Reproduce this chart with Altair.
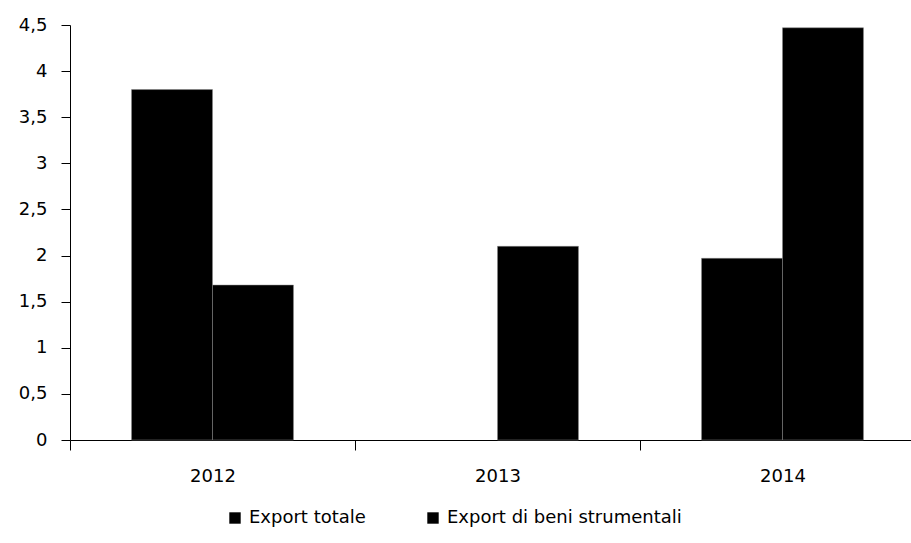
import altair as alt
import pandas as pd

years = ["2012", "2013", "2014"]
series = ["Export totale", "Export di beni strumentali"]
export_totale = [3.8, None, 1.97]
export_beni = [1.68, 2.1, 4.47]
y_ticks = [0, 0.5, 1, 1.5, 2, 2.5, 3, 3.5, 4, 4.5]

rows = []
for i, y in enumerate(years):
    for s, vals in zip(series, [export_totale, export_beni]):
        if vals[i] is not None:
            rows.append({"anno": y, "serie": s, "valore": vals[i]})
df = pd.DataFrame(rows)

FONT = "DejaVu Sans"
FS = 18

chart = alt.Chart(df).mark_bar(color="black", stroke="#888888", strokeWidth=0.5).encode(
    x=alt.X("anno:N", sort=years,
            scale=alt.Scale(domain=years, range=[0, 855], paddingInner=0, paddingOuter=0),
            axis=alt.Axis(title=None, labelAngle=0, tickBand="extent", tickSize=10,
                          labelPadding=17, labelFontSize=FS, labelFont=FONT,
                          labelColor="black", domainColor="black", tickColor="black",
                          labelFontWeight="normal", grid=False)),
    xOffset=alt.XOffset("serie:N", sort=series,
                        scale=alt.Scale(domain=series, paddingInner=0, paddingOuter=0.76)),
    y=alt.Y("valore:Q",
            scale=alt.Scale(domain=[0, 4.5], nice=False),
            axis=alt.Axis(title=None, values=y_ticks, tickSize=9, labelPadding=14,
                          labelExpr="replace(toString(datum.value), '.', ',')",
                          labelFontSize=FS, labelFont=FONT, labelColor="black",
                          domainColor="black", tickColor="black", grid=False)),
    color=alt.Color("serie:N", sort=series,
                    scale=alt.Scale(domain=series, range=["black", "black"]),
                    legend=alt.Legend(title=None, orient="none", direction="horizontal",
                                      legendX=156, legendY=484, symbolType="square",
                                      symbolSize=130, symbolStrokeWidth=0,
                                      labelFontSize=FS, labelFont=FONT, labelColor="black",
                                      labelLimit=0, columnPadding=58, labelOffset=5)),
).properties(
    width=841, height=415,
    background="white",
    autosize=alt.AutoSizeParams(type="none"),
    padding={"left": 70, "top": 25, "right": 0, "bottom": 103},
).configure_view(stroke=None)

chart.save("out.html", embed_options={"renderer": "svg", "actions": False})
